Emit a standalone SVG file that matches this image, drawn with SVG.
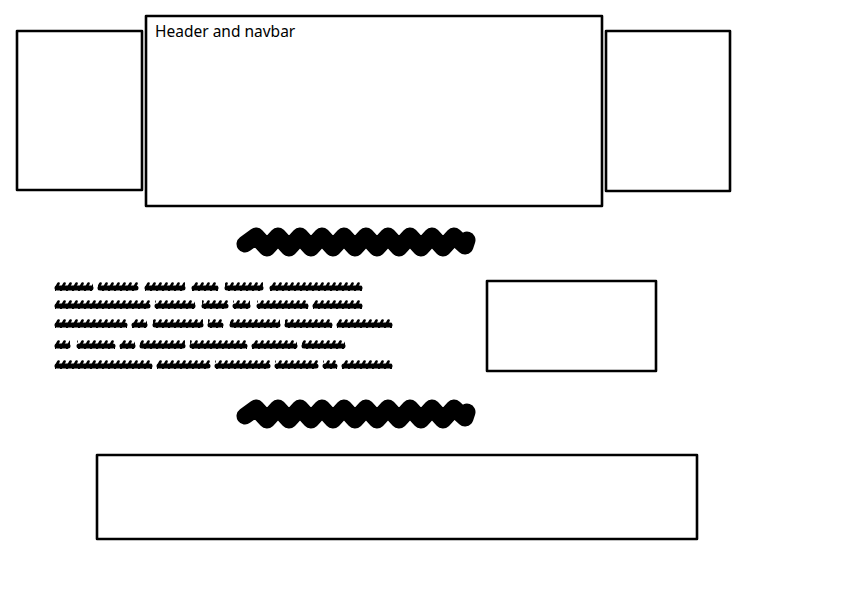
<svg xmlns="http://www.w3.org/2000/svg" width="862" height="615" viewBox="0 0 862 615">
<style>
.box{fill:#fff;stroke:#000;stroke-width:2.6;stroke-linejoin:round}
.lbl{font-family:"Noto Sans","Liberation Sans",sans-serif;font-size:15.5px;fill:#000}
.big{fill:none;stroke:#000;stroke-width:17;stroke-linecap:round;stroke-linejoin:round}
.bar{stroke:#000;stroke-width:5;stroke-linecap:round}
.zw{fill:url(#zz)}
</style>
<defs>
<pattern id="zz" patternUnits="userSpaceOnUse" x="0" y="-5" width="6" height="10">
<path d="M0.5,8.5 L4.5,1.5" stroke="#000" stroke-width="2.6" stroke-linecap="round"/>
</pattern>
</defs>
<rect width="862" height="615" fill="#fff"/>
<g id="left-panel"><rect class="box" x="17" y="31" width="125" height="159"/></g>
<g id="header"><rect class="box" x="146" y="16" width="456" height="190"/><text class="lbl" x="155" y="37">Header and navbar</text></g>
<g id="right-panel"><rect class="box" x="606" y="31" width="124" height="160"/></g>
<g id="title-1"><path class="big" d="M245,244 L256,236 L267,248 L278,236 L289,248 L300,236 L311,248 L322,236 L333,248 L344,236 L355,248 L366,236 L377,248 L388,236 L399,248 L410,236 L421,248 L432,236 L443,248 L454,236 L465,246 L467,240"/></g>
<g id="paragraph">
<g transform="translate(0,287)">
<path class="bar" d="M57,1H91M100,1H136M147,1H183M194,1H216M227,1H261M272,1H360"/>
<rect class="zw" x="55" y="-5" width="38" height="9"/><rect class="zw" x="98" y="-5" width="40" height="9"/><rect class="zw" x="145" y="-5" width="40" height="9"/><rect class="zw" x="192" y="-5" width="26" height="9"/><rect class="zw" x="225" y="-5" width="38" height="9"/><rect class="zw" x="270" y="-5" width="92" height="9"/>
</g>
<g transform="translate(0,305)">
<path class="bar" d="M57,1H148M157,1H193M204,1H226M235,1H248M259,1H306M315,1H360"/>
<rect class="zw" x="55" y="-5" width="95" height="9"/><rect class="zw" x="155" y="-5" width="40" height="9"/><rect class="zw" x="202" y="-5" width="26" height="9"/><rect class="zw" x="233" y="-5" width="17" height="9"/><rect class="zw" x="257" y="-5" width="51" height="9"/><rect class="zw" x="313" y="-5" width="49" height="9"/>
</g>
<g transform="translate(0,324)">
<path class="bar" d="M57,1H125M134,1H145M155,1H201M210,1H221M232,1H278M287,1H330M339,1H390"/>
<rect class="zw" x="55" y="-5" width="72" height="9"/><rect class="zw" x="132" y="-5" width="15" height="9"/><rect class="zw" x="153" y="-5" width="50" height="9"/><rect class="zw" x="208" y="-5" width="15" height="9"/><rect class="zw" x="230" y="-5" width="50" height="9"/><rect class="zw" x="285" y="-5" width="47" height="9"/><rect class="zw" x="337" y="-5" width="55" height="9"/>
</g>
<g transform="translate(0,345)">
<path class="bar" d="M57,1H68M79,1H113M122,1H133M142,1H183M192,1H245M254,1H295M304,1H343"/>
<rect class="zw" x="55" y="-5" width="15" height="9"/><rect class="zw" x="77" y="-5" width="38" height="9"/><rect class="zw" x="120" y="-5" width="15" height="9"/><rect class="zw" x="140" y="-5" width="45" height="9"/><rect class="zw" x="190" y="-5" width="57" height="9"/><rect class="zw" x="252" y="-5" width="45" height="9"/><rect class="zw" x="302" y="-5" width="43" height="9"/>
</g>
<g transform="translate(0,365)">
<path class="bar" d="M57,1H150M159,1H208M217,1H268M277,1H316M325,1H335M344,1H390"/>
<rect class="zw" x="55" y="-5" width="97" height="9"/><rect class="zw" x="157" y="-5" width="53" height="9"/><rect class="zw" x="215" y="-5" width="55" height="9"/><rect class="zw" x="275" y="-5" width="43" height="9"/><rect class="zw" x="323" y="-5" width="14" height="9"/><rect class="zw" x="342" y="-5" width="50" height="9"/>
</g>
</g>
<g id="side-box"><rect class="box" x="487" y="281" width="169" height="90"/></g>
<g id="title-2"><path class="big" transform="translate(0,172)" d="M245,244 L256,236 L267,248 L278,236 L289,248 L300,236 L311,248 L322,236 L333,248 L344,236 L355,248 L366,236 L377,248 L388,236 L399,248 L410,236 L421,248 L432,236 L443,248 L454,236 L465,246 L467,240"/></g>
<g id="footer"><rect class="box" x="97" y="455" width="600" height="84"/></g>
<g id="connectors"/>
</svg>
